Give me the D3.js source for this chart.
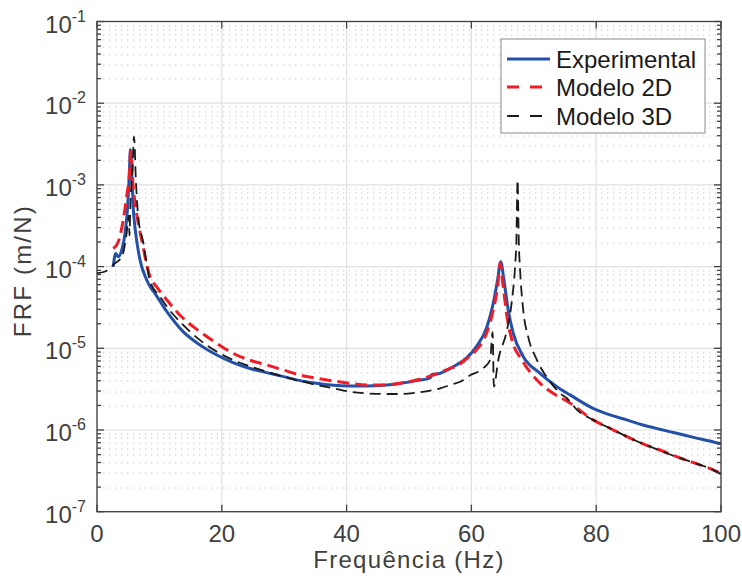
<!DOCTYPE html>
<html>
<head>
<meta charset="utf-8">
<script src="https://cdn.jsdelivr.net/npm/d3@7"></script>
<style>
  html, body { margin: 0; padding: 0; background: #fff; }
  svg { display: block; font-family: "Liberation Sans", Arial, sans-serif; }
</style>
</head>
<body>
<div id="chart"></div>
<script>
// Experimental
var expFreq = [2.6, 3.0, 3.4, 3.95, 4.5, 4.9, 5.2, 5.35, 5.55, 5.8, 6.2, 6.9, 7.95, 8.5, 9.3,
  11.2, 13.8, 16.5, 19.2, 21.8, 24.4, 27.2, 29.9, 32.5, 35.2, 37.9, 40.5, 43.2, 45.9, 48.6,
  51.2, 53.4, 53.6, 55.0, 56.6, 57.6, 59.2, 60.8, 62.5, 63.5, 64.2, 64.7, 65.2, 65.9, 66.7,
  68.3, 71.0, 73.7, 75.8, 79.5, 82.2, 84.9, 87.5, 90.2, 92.9, 95.6, 98.2, 100];
var expFRF = [1.00e-4, 1.45e-4, 1.32e-4, 1.58e-4, 2.57e-4, 5.37e-4, 1.51e-3, 2.69e-3, 1.51e-3, 5.37e-4, 2.57e-4, 1.20e-4, 6.9e-5, 5.7e-5, 4.68e-5,
  2.81e-5, 1.60e-5, 1.10e-5, 8.28e-6, 6.67e-6, 5.69e-6, 5.04e-6, 4.50e-6, 4.02e-6, 3.73e-6, 3.52e-6, 3.46e-6, 3.46e-6, 3.52e-6, 3.73e-6,
  4.02e-6, 4.35e-6, 4.75e-6, 4.94e-6, 5.69e-6, 6.25e-6, 7.59e-6, 1.05e-5, 1.84e-5, 3.55e-5, 6.92e-5, 1.15e-4, 6.92e-5, 2.95e-5, 1.53e-5,
  7.94e-6, 4.94e-6, 3.39e-6, 2.69e-6, 1.84e-6, 1.53e-6, 1.33e-6, 1.15e-6, 1.02e-6, 9.12e-7, 8.13e-7, 7.33e-7, 6.76e-7];

// Modelo 2D
var m2dFreq = [2.6, 3.4, 4.2, 4.75, 5.2, 5.4, 5.8, 6.35, 7.15, 8.5, 9.6, 11.2, 13.8, 16.5, 19.2,
  21.8, 24.4, 27.2, 29.9, 32.5, 35.2, 37.9, 40.5, 43.2, 45.9, 48.6, 51.2, 53.9, 56.6, 57.6,
  59.2, 60.8, 62.5, 63.5, 64.2, 64.6, 65.1, 65.7, 66.5, 68.1, 70.5, 73.1, 75.6, 79.5, 82.2,
  84.9, 87.5, 90.2, 92.9, 95.6, 98.2, 100];
var m2dFRF = [1.66e-4, 2.0e-4, 3.72e-4, 7.24e-4, 1.38e-3, 2.57e-3, 9.55e-4, 4.47e-4, 2.14e-4, 7.5e-5, 5.6e-5, 3.90e-5, 2.33e-5, 1.60e-5, 1.15e-5,
  8.69e-6, 7.19e-6, 6.25e-6, 5.42e-6, 4.71e-6, 4.30e-6, 3.98e-6, 3.73e-6, 3.56e-6, 3.56e-6, 3.73e-6, 4.09e-6, 4.71e-6, 5.69e-6, 6.03e-6,
  7.41e-6, 9.55e-6, 1.58e-5, 2.95e-5, 5.68e-5, 1.10e-4, 5.68e-5, 2.45e-5, 1.26e-5, 7.19e-6, 4.09e-6, 2.81e-6, 2.19e-6, 1.33e-6, 1.05e-6,
  8.32e-7, 6.76e-7, 5.69e-7, 4.71e-7, 3.98e-7, 3.39e-7, 2.95e-7];

// Modelo 3D
var m3dFreq = [0, 1.3, 2.1, 2.9, 4.0, 4.75, 5.1, 5.2, 5.35, 5.7, 5.93, 6.25, 6.6, 7.4, 8.5,
  10.1, 11.2, 13.8, 16.5, 19.2, 21.8, 24.4, 27.2, 29.9, 32.5, 35.2, 37.9, 40.5, 43.2, 45.9,
  48.6, 51.2, 53.9, 55.0, 56.6, 58.2, 59.8, 61.0, 61.9, 63.0, 63.4, 63.6, 64.3, 65.7, 66.5,
  67.0, 67.2, 67.4, 67.6, 67.8, 68.3, 69.1, 70.5, 72.6, 74.2, 75.3, 77.0, 79.5, 82.2, 84.9,
  87.5, 90.2, 92.9, 95.6, 98.2, 100];
var m3dFRF = [8.3e-5, 8.7e-5, 9.55e-5, 1.10e-4, 1.32e-4, 2.57e-4, 4.2e-4, 2.4e-4, 5.6e-4, 1.66e-3, 3.89e-3, 1.05e-3, 4.07e-4, 2.0e-4, 6.6e-5,
  4.29e-5, 3.24e-5, 1.93e-5, 1.26e-5, 9.10e-6, 7.19e-6, 6.07e-6, 5.18e-6, 4.50e-6, 3.98e-6, 3.56e-6, 3.24e-6, 2.94e-6, 2.81e-6, 2.76e-6,
  2.76e-6, 2.86e-6, 3.09e-6, 3.24e-6, 3.56e-6, 3.89e-6, 4.68e-6, 5.13e-6, 5.69e-6, 7.19e-6, 1.58e-5, 3.39e-6, 7.19e-6, 1.67e-5, 3.89e-5,
  1.0e-4, 1.95e-4, 1.15e-3, 1.95e-4, 9.12e-5, 2.95e-5, 1.38e-5, 7.19e-6, 3.91e-6, 2.82e-6, 2.45e-6, 1.74e-6, 1.33e-6, 1.05e-6, 8.32e-7,
  6.76e-7, 5.62e-7, 4.68e-7, 3.98e-7, 3.39e-7, 2.88e-7];

var xTicks = [0, 20, 40, 60, 80, 100];
var yExponents = [-7, -6, -5, -4, -3, -2, -1];
var seriesNames = ["Experimental", "Modelo 2D", "Modelo 3D"];

var W = 742, H = 582;
var margin = {left: 97, right: 21, top: 21.5, bottom: 70.3};
var width = W - margin.left - margin.right;
var height = H - margin.top - margin.bottom;

var svg = d3.select("#chart").append("svg")
  .attr("width", W)
  .attr("height", H);

var g = svg.append("g")
  .attr("transform", "translate(" + margin.left + "," + margin.top + ")");

var x = d3.scaleLinear().domain([0, 100]).range([0, width]);
var y = d3.scaleLog().domain([1e-7, 1e-1]).range([height, 0]);

// minor grid (dotted)
var minorVals = [];
yExponents.slice(0, -1).forEach(function (e) {
  for (var k = 2; k <= 9; k++) minorVals.push(k * Math.pow(10, e));
});
g.append("g").selectAll("line")
  .data(minorVals).enter().append("line")
  .attr("x1", 0).attr("x2", width)
  .attr("y1", function (d) { return Math.round(y(d)) + 0.5; })
  .attr("y2", function (d) { return Math.round(y(d)) + 0.5; })
  .attr("stroke", "#c4c4c4")
  .attr("stroke-width", 1)
  .attr("stroke-dasharray", "1.3,4.7");

// major grid
g.append("g").selectAll("line")
  .data(yExponents).enter().append("line")
  .attr("x1", 0).attr("x2", width)
  .attr("y1", function (d) { return y(Math.pow(10, d)); })
  .attr("y2", function (d) { return y(Math.pow(10, d)); })
  .attr("stroke", "#e0e0e0")
  .attr("stroke-width", 1.2);
g.append("g").selectAll("line")
  .data(xTicks).enter().append("line")
  .attr("x1", function (d) { return x(d); })
  .attr("x2", function (d) { return x(d); })
  .attr("y1", 0).attr("y2", height)
  .attr("stroke", "#e0e0e0")
  .attr("stroke-width", 1.2);

// lines
svg.append("defs").append("clipPath").attr("id", "clip")
  .append("rect").attr("width", width).attr("height", height);

var line = d3.line()
  .curve(d3.curveMonotoneX)
  .x(function (d) { return x(d[0]); })
  .y(function (d) { return y(d[1]); });

function zip(a, b) { return a.map(function (v, i) { return [v, b[i]]; }); }

var plot = g.append("g").attr("clip-path", "url(#clip)");
var styles = [
  {data: zip(expFreq, expFRF), color: "#2450a8", w: 3, dash: null},
  {data: zip(m2dFreq, m2dFRF), color: "#f01c28", w: 3, dash: "12,6"},
  {data: zip(m3dFreq, m3dFRF), color: "#1a1a1a", w: 1.8, dash: "11,6"}
];
styles.forEach(function (s) {
  plot.append("path")
    .datum(s.data)
    .attr("fill", "none")
    .attr("stroke", s.color)
    .attr("stroke-width", s.w)
    .attr("stroke-linejoin", "round")
    .attr("stroke-dasharray", s.dash)
    .attr("d", line);
});

// axes box
var axisColor = "#404040";
var axes = g.append("g").attr("stroke", axisColor).attr("stroke-width", 1.3);
axes.append("rect").attr("width", width).attr("height", height).attr("fill", "none");

// y ticks (left and right, inward)
yExponents.forEach(function (e) {
  var yy = y(Math.pow(10, e));
  axes.append("line").attr("x1", 0).attr("x2", 7).attr("y1", yy).attr("y2", yy);
  axes.append("line").attr("x1", width).attr("x2", width - 7).attr("y1", yy).attr("y2", yy);
});
minorVals.forEach(function (v) {
  var yy = y(v);
  axes.append("line").attr("x1", 0).attr("x2", 4).attr("y1", yy).attr("y2", yy);
  axes.append("line").attr("x1", width).attr("x2", width - 4).attr("y1", yy).attr("y2", yy);
});
// x ticks (bottom and top)
xTicks.forEach(function (t) {
  var xx = x(t);
  axes.append("line").attr("x1", xx).attr("x2", xx).attr("y1", height).attr("y2", height - 7);
  axes.append("line").attr("x1", xx).attr("x2", xx).attr("y1", 0).attr("y2", 7);
});

// tick labels
var textColor = "#404040";
g.append("g").selectAll("text")
  .data(xTicks).enter().append("text")
  .attr("x", function (d) { return x(d); })
  .attr("y", height + 30)
  .attr("text-anchor", "middle")
  .attr("fill", textColor)
  .attr("font-size", 24)
  .text(function (d) { return d; });

var yl = g.append("g").selectAll("text")
  .data(yExponents).enter().append("text")
  .attr("x", -11)
  .attr("y", function (d) { return y(Math.pow(10, d)) + 11; })
  .attr("text-anchor", "end")
  .attr("fill", textColor)
  .attr("font-size", 24);
yl.append("tspan").text("10");
yl.append("tspan")
  .attr("dy", -11)
  .attr("font-size", 16)
  .text(function (d) { return d; });

// axis labels
svg.append("text")
  .attr("x", margin.left + width / 2)
  .attr("y", 568)
  .attr("text-anchor", "middle")
  .attr("fill", textColor)
  .attr("font-size", 24)
  .attr("letter-spacing", 1.3)
  .text("Frequência (Hz)");

svg.append("text")
  .attr("transform", "translate(30.5," + (margin.top + height / 2 + 4) + ") rotate(-90)")
  .attr("text-anchor", "middle")
  .attr("fill", textColor)
  .attr("font-size", 24)
  .attr("letter-spacing", 2.2)
  .text("FRF (m/N)");

// legend
var leg = svg.append("g").attr("transform", "translate(501,39)");
leg.append("rect")
  .attr("width", 204).attr("height", 94)
  .attr("fill", "#fff")
  .attr("stroke", "#8a8a8a")
  .attr("stroke-width", 1);
var rowY = [20, 48, 77];
seriesNames.forEach(function (name, i) {
  var s = styles[i];
  leg.append("line")
    .attr("x1", 6).attr("x2", 49)
    .attr("y1", rowY[i]).attr("y2", rowY[i])
    .attr("stroke", s.color)
    .attr("stroke-width", s.w)
    .attr("stroke-dasharray", s.dash ? "12,11" : null);
  leg.append("text")
    .attr("x", 55)
    .attr("y", rowY[i] + 8.5)
    .attr("fill", "#1a1a1a")
    .attr("font-size", 24)
    .text(name);
});
</script>
</body>
</html>
